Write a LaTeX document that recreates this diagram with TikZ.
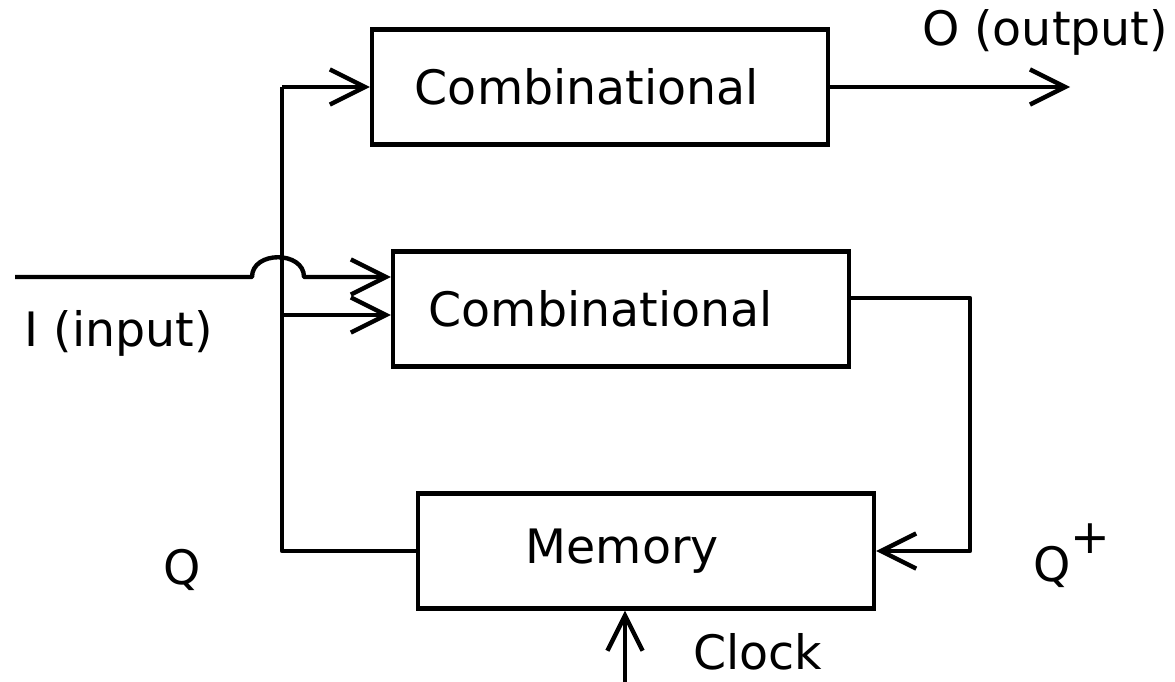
\documentclass[tikz,border=0pt]{standalone}
\usepackage{fontspec}
\setmainfont{DejaVu Sans}
\usetikzlibrary{arrows.meta}
\newlength{\blockwidth}
\newlength{\blockheight}
\newlength{\wirewidth}
\setlength{\blockwidth}{9.12cm}
\setlength{\blockheight}{2.3cm}
\setlength{\wirewidth}{2.5pt}
\tikzstyle{block} = [draw, line width=\wirewidth, minimum width=\blockwidth, minimum height=\blockheight, inner sep=0]
\tikzstyle{wire} = [draw, line width=\wirewidth, line join=round]
\tikzstyle{feed} = [wire, -{Straight Barb[length=20pt,width=20pt]}]
\tikzstyle{every node} = [font=\fontsize{27}{32}\selectfont, inner sep=0]
\begin{document}
\begin{tikzpicture}[x=0.02cm, y=-0.02cm]
	\useasboundingbox (0,0) rectangle (1175,682);
	
	% blocks
	\node[block] (comb1) at (600,87) {Combinational\kern 15pt};
	\node[block] (comb2) at (621,309) {Combinational\kern 23pt};
	\node[block] (mem) at (646,551) {Memory\kern 27pt};
	
	% wire corners
	\coordinate (in) at (15,277);
	\coordinate (hopa) at (252,277);
	\coordinate (hopb) at (304,277);
	\coordinate (qtop) at (282,87);
	\coordinate (qfork) at (282,315);
	\coordinate (qbot) at (282,551);
	\coordinate (out) at (1070,87);
	\coordinate (fbtop) at (970,298);
	\coordinate (clk) at (625,682);
	
	\draw[wire] (mem.west) -- (qbot) -- (qtop);
	\draw[feed] (qtop) -- (comb1.west);
	\draw[feed] (comb1.east) -- (out);
	\draw[feed] (in) -- (hopa) to[out=90, in=90, looseness=1.3] (hopb) -- (comb2.west |- hopb);
	\draw[feed] (qfork) -- (comb2.west |- qfork);
	\draw[feed] (comb2.east |- fbtop) -- (fbtop) |- (mem.east);
	\draw[feed] (clk) -- (clk |- mem.south);
	
	% labels
	\node (outlabel) at (1045,32) {O (output)};
	\node (inlabel) at (119,333) {I (input)};
	\node (qlabel) at (182,570) {Q};
	\node (qpluslabel) at (1072,556) {Q\raisebox{16pt}{+}};
	\node (clklabel) at (758,652) {Clock};
	
\end{tikzpicture}
\end{document}
